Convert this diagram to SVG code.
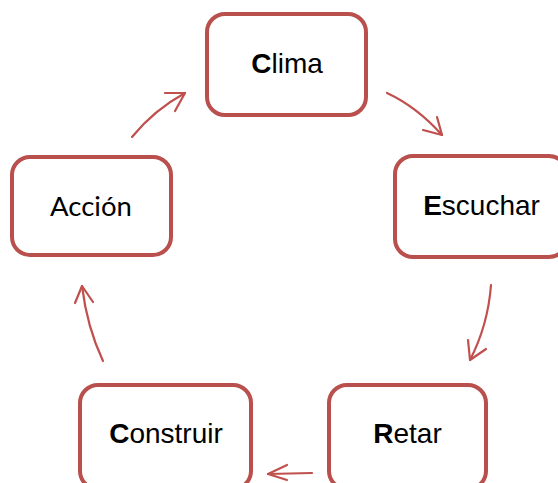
<svg xmlns="http://www.w3.org/2000/svg" width="558" height="483" viewBox="0 0 558 483">
<style>
.box{fill:#ffffff;stroke:#b9504d;stroke-width:4}
.lbl{font-family:"Liberation Sans",Arial,sans-serif;font-size:28px;fill:#000;text-anchor:middle}
.cal{font-family:Lato,"Open Sans",sans-serif;font-size:27.5px;fill:#000;text-anchor:middle}
.b{font-weight:bold}
.arr{fill:none;stroke:#c0504d;stroke-width:2.2;stroke-linecap:round;stroke-linejoin:round}
</style>
<rect width="558" height="483" fill="#ffffff"/>
<g id="connectors">
<path class="arr" d="M387,93 Q417,107 442,135"/><path class="arr" d="M423,130 L442,135 L437,117"/>
<path class="arr" d="M491,285 Q488,325 470,360"/><path class="arr" d="M468,340 L470,360 L486,349"/>
<path class="arr" d="M312,473 L268,474"/><path class="arr" d="M287,465 L268,474 L287,480"/>
<path class="arr" d="M103,361 Q87,327 82,286"/><path class="arr" d="M75,303 L82,286 L93,302"/>
<path class="arr" d="M132,137 Q154,110 185,93"/><path class="arr" d="M165,93 L185,93 L175,111"/>
</g>
<g id="clima"><rect class="box" x="207" y="14" width="159" height="101" rx="18"/><text class="lbl" x="287" y="73"><tspan class="b">C</tspan>lima</text></g>
<g id="escuchar"><rect class="box" x="395" y="156" width="172" height="101" rx="18"/><text class="lbl" x="481.5" y="215"><tspan class="b">E</tspan>scuchar</text></g>
<g id="retar"><rect class="box" x="329" y="385" width="157" height="104" rx="18"/><text class="lbl" x="407.5" y="443"><tspan class="b">R</tspan>etar</text></g>
<g id="construir"><rect class="box" x="80" y="385" width="171" height="104" rx="18"/><text class="lbl" x="166" y="443"><tspan class="b">C</tspan>onstruir</text></g>
<g id="accion"><rect class="box" x="12" y="157" width="159" height="98" rx="18"/><text class="cal" x="91" y="216">Acción</text></g>
</svg>
